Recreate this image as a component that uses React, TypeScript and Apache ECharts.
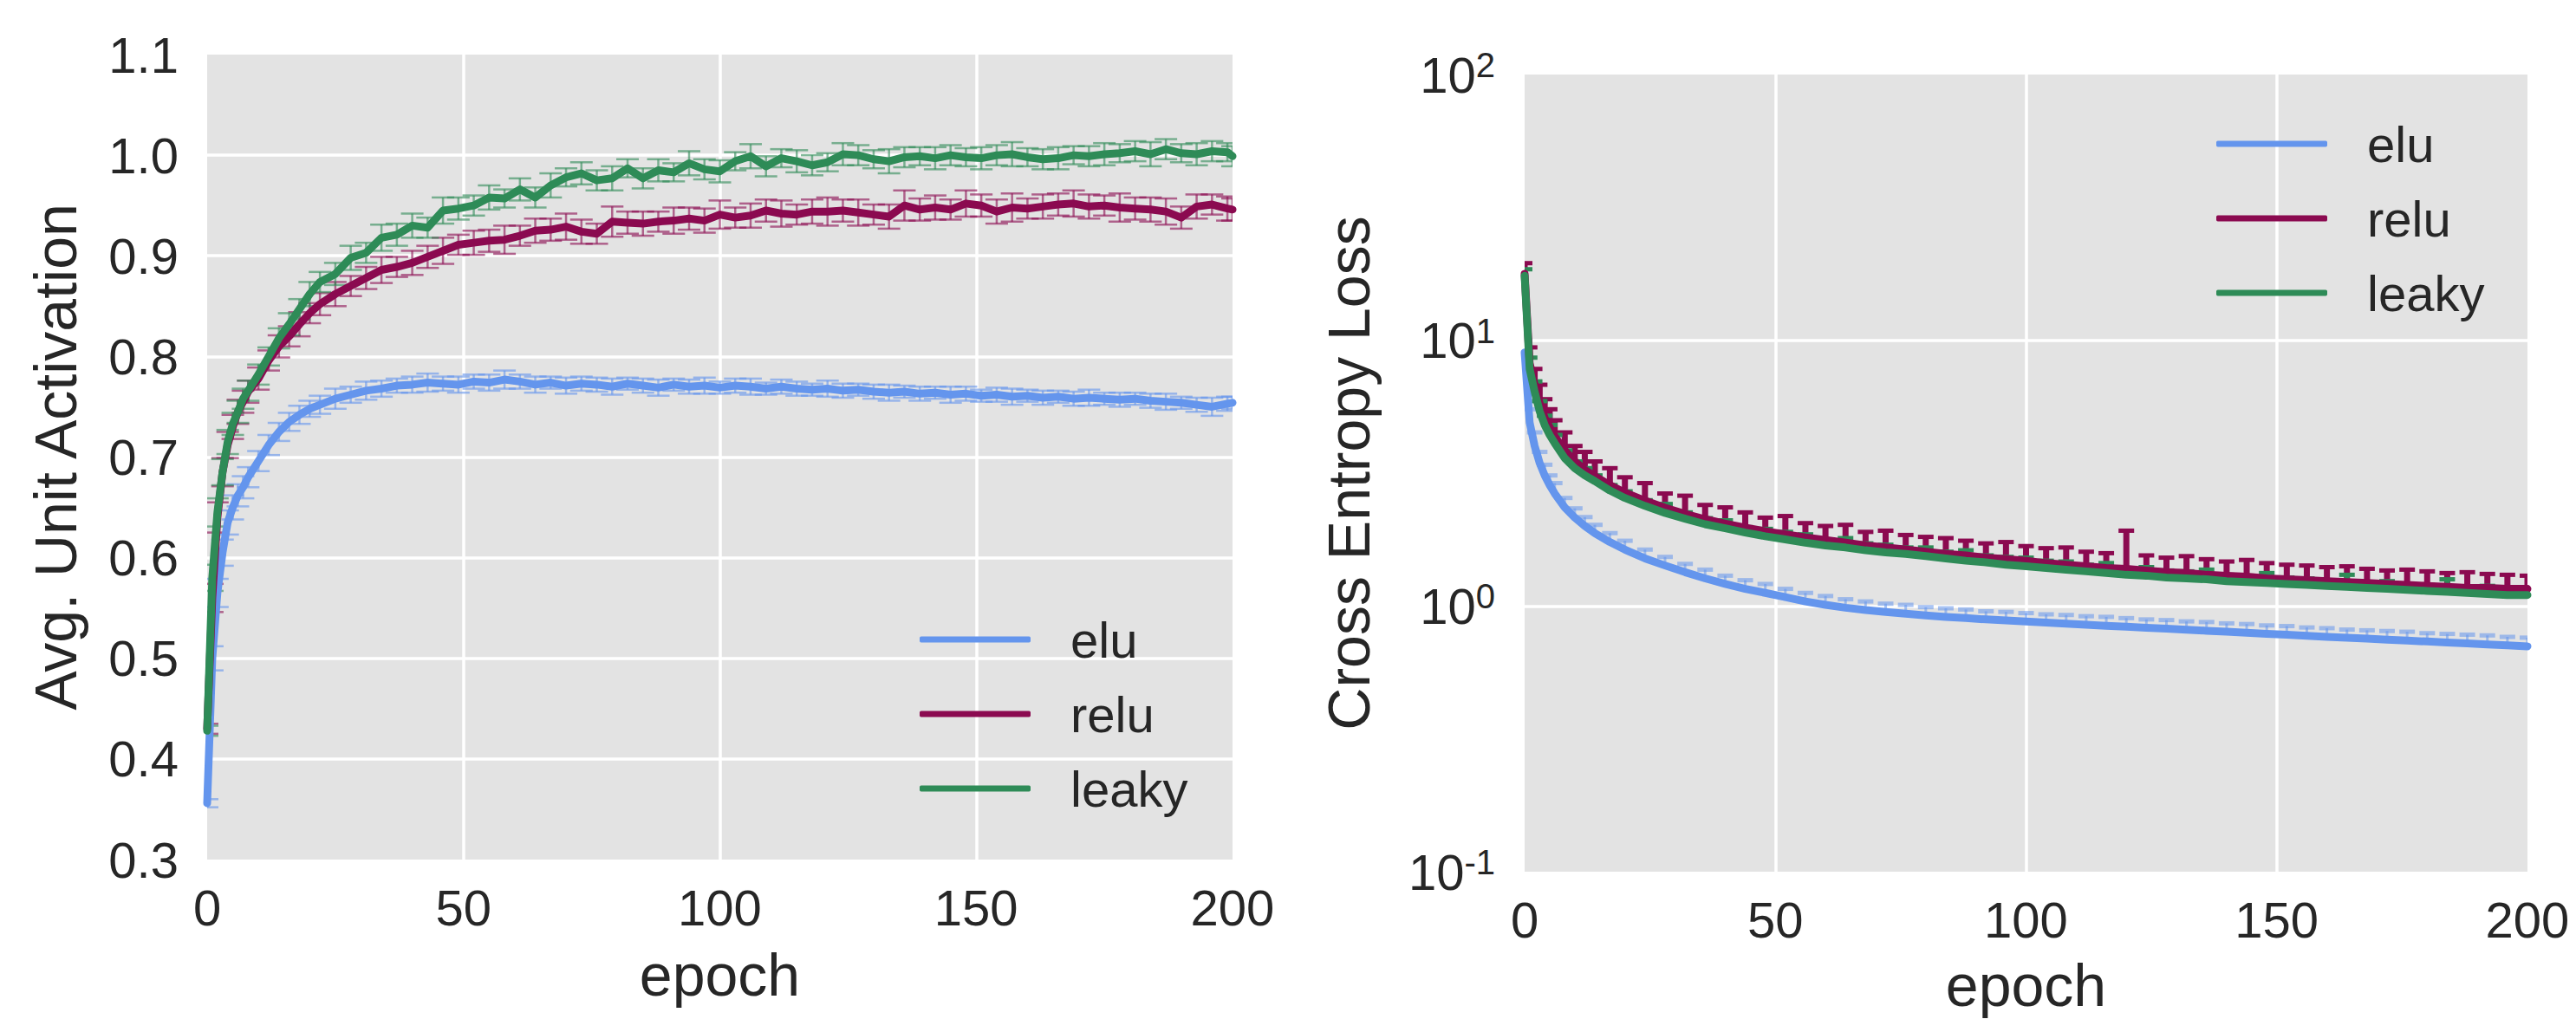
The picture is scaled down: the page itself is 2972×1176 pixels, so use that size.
import React, { useEffect, useRef } from "react";
import * as echarts from "echarts";

const SERIES_NAMES = ["elu", "relu", "leaky"];
const COLORS = ["#6495ED", "#8B0A50", "#2E8B57"];

// ---------- Left panel: average unit activation ----------
const leftEpochs = [
  0, 1, 2, 3, 4, 5, 6, 7, 8,
  10, 12, 14, 16, 18, 20, 22,
  25, 28, 31, 34, 37, 40, 43, 46, 49, 52,
  55, 58, 61, 64, 67, 70, 73, 76, 79, 82,
  85, 88, 91, 94, 97, 100, 103, 106, 109, 112,
  115, 118, 121, 124, 127, 130, 133, 136, 139, 142,
  145, 148, 151, 154, 157, 160, 163, 166, 169, 172,
  175, 178, 181, 184, 187, 190, 193, 196, 199,
  200,
];
const leftElu = [
  0.356, 0.5, 0.565, 0.605, 0.635, 0.65, 0.662, 0.67, 0.68,
  0.696, 0.712, 0.725, 0.735, 0.742, 0.748, 0.752,
  0.758, 0.762, 0.766, 0.768, 0.771, 0.772, 0.774, 0.773, 0.772, 0.775,
  0.774, 0.777, 0.775, 0.772, 0.774, 0.771, 0.773, 0.772, 0.77, 0.773,
  0.771, 0.769, 0.772, 0.77, 0.771, 0.769, 0.771, 0.77, 0.768, 0.77,
  0.768, 0.767, 0.768, 0.766, 0.767, 0.765, 0.764, 0.765, 0.763, 0.764,
  0.762, 0.763, 0.761, 0.762, 0.76, 0.761, 0.759, 0.76, 0.758, 0.759,
  0.758, 0.757, 0.758, 0.756, 0.755, 0.754, 0.752, 0.75, 0.753,
  0.754,
];
const leftRelu = [
  0.43, 0.56, 0.64, 0.685, 0.712, 0.73, 0.745, 0.755, 0.765,
  0.778, 0.796, 0.81, 0.82, 0.832, 0.843, 0.852,
  0.862, 0.87, 0.878, 0.886, 0.889, 0.893, 0.899, 0.905, 0.911, 0.913,
  0.915, 0.916, 0.92, 0.925, 0.926, 0.929, 0.924, 0.922, 0.934, 0.933,
  0.932, 0.934, 0.935, 0.937, 0.935, 0.941, 0.938, 0.94, 0.945, 0.942,
  0.941, 0.944, 0.944, 0.945, 0.943, 0.941, 0.939, 0.95, 0.946, 0.948,
  0.946, 0.952, 0.95, 0.944, 0.948, 0.947, 0.949, 0.951, 0.952, 0.949,
  0.95, 0.948, 0.947, 0.946, 0.944, 0.938, 0.949, 0.951, 0.947,
  0.946,
];
const leftLeaky = [
  0.428, 0.58, 0.645, 0.685, 0.715, 0.733, 0.745, 0.758, 0.766,
  0.782, 0.8, 0.818, 0.832, 0.847, 0.862, 0.874,
  0.882, 0.898, 0.903, 0.918, 0.921, 0.93, 0.928, 0.945, 0.947, 0.95,
  0.958, 0.957, 0.966, 0.958, 0.97, 0.978, 0.982, 0.975, 0.977, 0.987,
  0.977, 0.985, 0.983, 0.992, 0.986, 0.984, 0.994, 0.999, 0.989, 0.997,
  0.994, 0.99, 0.993, 1.001, 1.0, 0.996, 0.994, 0.998, 0.999, 0.997,
  1.0, 0.998, 0.997, 1.0, 1.001, 0.998, 0.996, 0.997, 1.0, 0.999,
  1.001, 1.002, 1.004, 1.001, 1.006, 1.002, 1.001, 1.004, 1.003,
  0.999,
];
const leftEluErr = [
  0.004, 0.012, 0.014, 0.013, 0.012, 0.012, 0.011, 0.011, 0.01, 0.01,
  0.01, 0.009, 0.009, 0.009, 0.008, 0.009, 0.01, 0.008, 0.009, 0.008,
  0.007, 0.008, 0.009, 0.007, 0.008, 0.007, 0.008, 0.009, 0.007, 0.008,
  0.006, 0.008, 0.007, 0.007, 0.008, 0.006, 0.007, 0.008, 0.006, 0.007,
  0.008, 0.006, 0.007, 0.008, 0.006, 0.007, 0.007, 0.006, 0.008, 0.007,
  0.006, 0.007, 0.008, 0.006, 0.007, 0.006, 0.008, 0.007, 0.006, 0.007,
  0.008, 0.006, 0.007, 0.006, 0.007, 0.008, 0.006, 0.007, 0.006, 0.007,
  0.008, 0.006, 0.007, 0.009, 0.007, 0.006,
];
const leftReluErr = [
  0.005, 0.014, 0.015, 0.014, 0.013, 0.012, 0.012, 0.011, 0.011, 0.011,
  0.01, 0.011, 0.01, 0.012, 0.01, 0.011, 0.012, 0.01, 0.011, 0.013,
  0.01, 0.012, 0.011, 0.013, 0.01, 0.012, 0.011, 0.014, 0.01, 0.012,
  0.011, 0.013, 0.012, 0.01, 0.015, 0.011, 0.012, 0.01, 0.013, 0.011,
  0.012, 0.014, 0.01, 0.012, 0.011, 0.013, 0.01, 0.012, 0.014, 0.011,
  0.013, 0.01, 0.012, 0.015, 0.011, 0.012, 0.01, 0.013, 0.011, 0.012,
  0.014, 0.01, 0.012, 0.011, 0.013, 0.012, 0.01, 0.014, 0.011, 0.012,
  0.013, 0.011, 0.012, 0.01, 0.012, 0.011,
];
const leftLeakyErr = [
  0.005, 0.013, 0.014, 0.013, 0.012, 0.011, 0.011, 0.01, 0.01, 0.01,
  0.009, 0.01, 0.011, 0.01, 0.012, 0.01, 0.011, 0.012, 0.01, 0.013,
  0.011, 0.012, 0.01, 0.013, 0.011, 0.01, 0.012, 0.009, 0.011, 0.01,
  0.012, 0.009, 0.011, 0.01, 0.012, 0.009, 0.01, 0.011, 0.009, 0.012,
  0.01, 0.011, 0.009, 0.012, 0.01, 0.009, 0.011, 0.01, 0.009, 0.011,
  0.01, 0.009, 0.012, 0.01, 0.009, 0.011, 0.01, 0.009, 0.011, 0.01,
  0.012, 0.009, 0.01, 0.011, 0.009, 0.01, 0.011, 0.009, 0.01, 0.012,
  0.01, 0.009, 0.011, 0.01, 0.009, 0.01,
];

// ---------- Right panel: cross entropy loss (log scale) ----------
const rightEpochs = [
  0, 1, 2, 3, 4, 5, 6, 8, 10, 12, 14, 17,
  20, 24, 28, 32, 36, 40, 44, 48, 52, 56,
  60, 64, 68, 72, 76, 80, 84, 88, 92, 96,
  100, 104, 108, 112, 116, 120, 124, 128, 132, 136,
  140, 144, 148, 152, 156, 160, 164, 168, 172, 176,
  180, 184, 188, 192, 196, 200,
];
const rightElu = [
  9.0, 4.9, 4.0, 3.45, 3.1, 2.85, 2.65, 2.35, 2.15, 2.0, 1.88, 1.74,
  1.63, 1.51, 1.42, 1.34, 1.27, 1.21, 1.16, 1.12, 1.08, 1.04,
  1.01, 0.985, 0.965, 0.95, 0.935, 0.922, 0.91, 0.9, 0.89, 0.882,
  0.874, 0.866, 0.858, 0.85, 0.842, 0.835, 0.828, 0.821, 0.814, 0.807,
  0.8, 0.793, 0.786, 0.779, 0.772, 0.765, 0.759, 0.753, 0.747, 0.741,
  0.735, 0.729, 0.723, 0.717, 0.711, 0.705,
];
const rightEluUpper = [
  10.0, 5.5, 4.5, 3.8, 3.4, 3.1, 2.9, 2.55, 2.33, 2.16, 2.02, 1.88,
  1.76, 1.63, 1.53, 1.44, 1.37, 1.3, 1.25, 1.21, 1.16, 1.12,
  1.09, 1.06, 1.04, 1.02, 1.01, 0.99, 0.98, 0.97, 0.955, 0.95,
  0.94, 0.93, 0.925, 0.915, 0.91, 0.9, 0.89, 0.885, 0.875, 0.87,
  0.86, 0.855, 0.845, 0.84, 0.83, 0.825, 0.815, 0.81, 0.805, 0.8,
  0.79, 0.785, 0.78, 0.775, 0.765, 0.76,
];
const rightRelu = [
  17.8, 8.2, 6.8, 5.8, 5.1, 4.7, 4.35, 3.85, 3.5, 3.25, 3.08, 2.85,
  2.67, 2.49, 2.34, 2.22, 2.12, 2.04, 1.97, 1.91, 1.86, 1.81,
  1.77, 1.73, 1.69, 1.66, 1.63, 1.6, 1.57, 1.55, 1.52, 1.5,
  1.48, 1.45, 1.43, 1.41, 1.39, 1.38, 1.36, 1.34, 1.33, 1.31,
  1.3, 1.29, 1.27, 1.26, 1.25, 1.24, 1.23, 1.22, 1.21, 1.2,
  1.19, 1.18, 1.17, 1.17, 1.16, 1.16,
];
const rightReluUpper = [
  19.5, 9.4, 7.8, 6.8, 6.0, 5.5, 5.0, 4.5, 4.0, 3.8, 3.5, 3.3,
  3.05, 2.9, 2.65, 2.6, 2.4, 2.35, 2.25, 2.15, 2.18, 2.05,
  2.0, 2.02, 1.9, 1.92, 1.85, 1.82, 1.8, 1.76, 1.72, 1.74,
  1.68, 1.65, 1.66, 1.6, 1.58, 1.92, 1.55, 1.52, 1.54, 1.5,
  1.47, 1.49, 1.45, 1.43, 1.42, 1.4, 1.41, 1.38, 1.36, 1.37,
  1.35, 1.33, 1.34, 1.32, 1.31, 1.3,
];
const rightLeaky = [
  17.5, 7.8, 6.4, 5.4, 4.8, 4.4, 4.1, 3.6, 3.3, 3.1, 2.95, 2.72,
  2.55, 2.38, 2.24, 2.13, 2.03, 1.96, 1.89, 1.83, 1.78, 1.73,
  1.69, 1.66, 1.62, 1.59, 1.57, 1.54, 1.51, 1.48, 1.46, 1.43,
  1.41, 1.39, 1.37, 1.35, 1.33, 1.31, 1.3, 1.28, 1.27, 1.26,
  1.24, 1.23, 1.22, 1.21, 1.2, 1.19, 1.18, 1.17, 1.16, 1.15,
  1.14, 1.13, 1.12, 1.11, 1.1, 1.1,
];
const rightLeakyUpper = [
  18.5, 8.6, 7.0, 5.9, 5.2, 4.8, 4.4, 3.85, 3.5, 3.3, 3.1, 2.85,
  2.7, 2.5, 2.42, 2.25, 2.14, 2.1, 1.98, 1.95, 1.9, 1.86,
  1.78, 1.8, 1.72, 1.7, 1.66, 1.66, 1.6, 1.62, 1.55, 1.53,
  1.52, 1.48, 1.47, 1.43, 1.45, 1.38, 1.4, 1.36, 1.35, 1.37,
  1.31, 1.3, 1.33, 1.28, 1.27, 1.25, 1.31, 1.23, 1.24, 1.21,
  1.2, 1.26, 1.18, 1.19, 1.17, 1.16,
];

const FONT = "'Liberation Sans', Arial, Helvetica, sans-serif";
const TEXT = "#262626";
const PANEL_BG = "#e3e3e3";

function pairs(xs: number[], ys: number[]) {
  const n = Math.min(xs.length, ys.length);
  const out: number[][] = [];
  for (let i = 0; i < n; i++) out.push([xs[i], ys[i]]);
  return out;
}
function symErr(xs: number[], ys: number[], es: number[]) {
  const n = Math.min(xs.length, ys.length, es.length);
  const out: number[][] = [];
  for (let i = 0; i < n; i++) out.push([xs[i], ys[i] - es[i], ys[i] + es[i]]);
  return out;
}
function upErr(xs: number[], ys: number[], ups: number[]) {
  const n = Math.min(xs.length, ys.length, ups.length);
  const out: number[][] = [];
  for (let i = 0; i < n; i++) out.push([xs[i], ys[i], ups[i]]);
  return out;
}

function errorSeries(
  name: string,
  data: number[][],
  axisIndex: number,
  color: string,
  capW: number,
  lw: number,
  capLw: number,
  opacity: number,
  bottomCap: boolean
) {
  return {
    type: "custom",
    name,
    xAxisIndex: axisIndex,
    yAxisIndex: axisIndex,
    clip: true,
    silent: true,
    encode: { x: 0, y: [1, 2] },
    data,
    renderItem: (_params: any, api: any) => {
      const x = api.value(0);
      const lo = api.value(1);
      const hi = api.value(2);
      const a = api.coord([x, lo]);
      const b = api.coord([x, hi]);
      const h = capW / 2;
      const style = { stroke: color, lineWidth: lw, opacity };
      const capStyle = { stroke: color, lineWidth: capLw, opacity };
      const children: any[] = [
        { type: "line", shape: { x1: a[0], y1: a[1], x2: b[0], y2: b[1] }, style },
        { type: "line", shape: { x1: b[0] - h, y1: b[1], x2: b[0] + h, y2: b[1] }, style: capStyle },
      ];
      if (bottomCap) {
        children.push({ type: "line", shape: { x1: a[0] - h, y1: a[1], x2: a[0] + h, y2: a[1] }, style: capStyle });
      }
      return { type: "group", children };
    },
  };
}

function lineSeries(name: string, data: number[][], axisIndex: number, color: string, width: number) {
  return {
    type: "line",
    name,
    xAxisIndex: axisIndex,
    yAxisIndex: axisIndex,
    data,
    showSymbol: false,
    symbol: "none",
    clip: true,
    silent: true,
    color,
    lineStyle: { color, width, join: "round", cap: "round" },
  };
}

function buildOption() {
  const splitLine = {
    show: true,
    showMinLine: false,
    showMaxLine: false,
    lineStyle: { color: "#ffffff", width: 3.5 },
  };
  const tickLabel = { color: TEXT, fontFamily: FONT, fontSize: 58 };
  const nameStyle = { color: TEXT, fontFamily: FONT, fontSize: 68 };

  const leftSets = [
    { y: leftElu, e: leftEluErr },
    { y: leftRelu, e: leftReluErr },
    { y: leftLeaky, e: leftLeakyErr },
  ];
  const rightSets = [
    { y: rightElu, u: rightEluUpper, op: 0.55, lw: 3 },
    { y: rightRelu, u: rightReluUpper, op: 1, lw: 7 },
    { y: rightLeaky, u: rightLeakyUpper, op: 1, lw: 6 },
  ];

  const series: any[] = [];
  leftSets.forEach((s, i) => {
    series.push(errorSeries(SERIES_NAMES[i] + " err L", symErr(leftEpochs, s.y, s.e), 0, COLORS[i], 26, 2.5, 2.5, 0.6, true));
    series.push(lineSeries(SERIES_NAMES[i], pairs(leftEpochs, s.y), 0, COLORS[i], 9));
  });
  rightSets.forEach((s, i) => {
    series.push(errorSeries(SERIES_NAMES[i] + " err R", upErr(rightEpochs, s.y, s.u), 1, COLORS[i], 18, s.lw, 5, s.op, false));
    series.push(lineSeries(SERIES_NAMES[i], pairs(rightEpochs, s.y), 1, COLORS[i], 9));
  });

  const legendBase = {
    orient: "vertical",
    selectedMode: false,
    icon: "roundRect",
    itemWidth: 128,
    itemHeight: 7,
    itemGap: 26,
    data: SERIES_NAMES,
    textStyle: {
      color: TEXT,
      fontFamily: FONT,
      fontSize: 58,
      lineHeight: 60,
      padding: [0, 0, 0, 41],
    },
  };

  return {
    animation: false,
    backgroundColor: "#ffffff",
    grid: [
      { left: 239, top: 63, width: 1183, height: 929, show: true, backgroundColor: PANEL_BG, borderWidth: 0 },
      { left: 1759, top: 86, width: 1157, height: 924, show: true, backgroundColor: PANEL_BG, borderWidth: 0 },
    ],
    xAxis: [
      {
        type: "value",
        gridIndex: 0,
        min: 0,
        max: 200,
        interval: 50,
        name: "epoch",
        nameLocation: "middle",
        nameGap: 99,
        nameTextStyle: nameStyle,
        axisLine: { show: false },
        axisTick: { show: false },
        axisLabel: { ...tickLabel, margin: 26 },
        splitLine,
      },
      {
        type: "value",
        gridIndex: 1,
        min: 0,
        max: 200,
        interval: 50,
        name: "epoch",
        nameLocation: "middle",
        nameGap: 97,
        nameTextStyle: nameStyle,
        axisLine: { show: false },
        axisTick: { show: false },
        axisLabel: { ...tickLabel, margin: 26 },
        splitLine,
      },
    ],
    yAxis: [
      {
        type: "value",
        gridIndex: 0,
        min: 0.3,
        max: 1.1,
        interval: 0.1,
        name: "Avg. Unit Activation",
        nameLocation: "middle",
        nameGap: 141,
        nameTextStyle: nameStyle,
        axisLine: { show: false },
        axisTick: { show: false },
        axisLabel: { ...tickLabel, margin: 33, formatter: (v: number) => v.toFixed(1) },
        splitLine,
      },
      {
        type: "log",
        logBase: 10,
        gridIndex: 1,
        min: 0.1,
        max: 100,
        name: "Cross Entropy Loss",
        nameLocation: "middle",
        nameGap: 169,
        nameTextStyle: nameStyle,
        axisLine: { show: false },
        axisTick: { show: false },
        axisLabel: {
          margin: 34,
          formatter: (v: number) => {
            const e = Math.round(Math.log10(v));
            return "{b|10}{s|" + e + "}";
          },
          rich: {
            b: { color: TEXT, fontFamily: FONT, fontSize: 58, lineHeight: 62 },
            s: { color: TEXT, fontFamily: FONT, fontSize: 40, lineHeight: 40, verticalAlign: "top" },
          },
        },
        splitLine,
      },
    ],
    legend: [
      { ...legendBase, left: 1056, top: 703 },
      { ...legendBase, left: 2552, top: 131 },
    ],
    series,
  };
}

export default function App() {
  const ref = useRef<HTMLDivElement>(null);
  useEffect(() => {
    if (!ref.current) return;
    const chart = echarts.init(ref.current, null, { renderer: "svg" });
    chart.setOption(buildOption() as any);
    return () => {
      chart.dispose();
    };
  }, []);
  return (
    <div
      ref={ref}
      style={{ position: "absolute", left: 0, top: 0, width: 2972, height: 1176, background: "#ffffff" }}
    />
  );
}
